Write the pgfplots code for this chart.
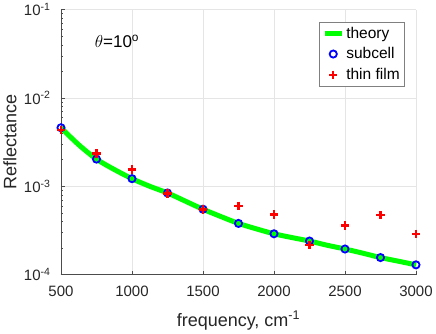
\documentclass[border=0pt]{standalone}
\usepackage{pgfplots}
\pgfplotsset{compat=1.18}
\usepackage{fontspec}
\setmainfont{Liberation Sans}
\definecolor{axgray}{gray}{0.3}
\definecolor{mgreen}{rgb}{0,1,0}
\begin{document}
\begin{tikzpicture}
\begin{axis}[
    name=ax,
    scale only axis,
    width=355pt, height=265pt,
    ymode=log,
    xmin=500, xmax=3000,
    ymin=1e-4, ymax=1e-1,
    xtick={500,1000,1500,2000,2500,3000},
    ytick={1e-4,1e-3,1e-2,1e-1},
    yticklabels={10\textsuperscript{-4},10\textsuperscript{-3},10\textsuperscript{-2},10\textsuperscript{-1}},
    /pgf/number format/assume math mode=true,
    /pgf/number format/set thousands separator={},
    axis lines*=left,
    axis line style={axgray, line width=0.7pt},
    tick style={axgray, line width=0.5pt},
    tick align=inside,
    major tick length=4pt,
    minor tick length=2.5pt,
    xtick pos=bottom, ytick pos=left,
    grid=major,
    grid style={gray!20, line width=0.5pt},
    tick label style={font=\fontsize{15}{17}\selectfont, text=black!85},
    yticklabel style={xshift=-7pt},
    xticklabel style={yshift=-8pt},
    xlabel={frequency, cm\textsuperscript{-1}},
    ylabel={Reflectance},
    label style={font=\fontsize{18}{21}\selectfont, text=black!85},
    xlabel style={at={(axis description cs:0.5,0)}, anchor=center, yshift=-46pt},
    ylabel style={at={(axis description cs:0,0.5)}, anchor=center, yshift=51pt},
    legend style={at={(1,1)}, xshift=-11pt, yshift=-12pt, anchor=north east,
        draw=gray, line width=0.6pt, font=\fontsize{15.5}{18}\selectfont,
        row sep=4pt, inner sep=3pt},
    legend cell align=left,
    clip=false,
]
\addplot[mgreen, line width=5pt, no markers, smooth] coordinates {
    (500,4.6e-3) (625,2.95e-3) (750,2.03e-3) (875,1.55e-3) (1000,1.22e-3)
    (1125,1.0e-3) (1250,8.4e-4) (1375,6.8e-4) (1500,5.5e-4) (1625,4.55e-4)
    (1750,3.8e-4) (1875,3.3e-4) (2000,2.9e-4) (2125,2.63e-4) (2250,2.4e-4)
    (2375,2.15e-4) (2500,1.95e-4) (2625,1.75e-4) (2750,1.56e-4)
    (2875,1.42e-4) (3000,1.29e-4)
};
\addlegendentry{theory}
\addplot[only marks, blue, mark=o, mark size=3.6pt, mark options={line width=1.8pt}] coordinates {
    (500,4.6e-3) (750,2.03e-3) (1000,1.22e-3) (1250,8.4e-4) (1500,5.5e-4)
    (1750,3.8e-4) (2000,2.9e-4) (2250,2.4e-4) (2500,1.95e-4) (2750,1.56e-4)
    (3000,1.29e-4)
};
\addlegendentry{subcell}
\addplot[only marks, red, mark=+, mark size=4.2pt, mark options={line width=2.3pt}] coordinates {
    (500,4.35e-3) (750,2.35e-3) (1000,1.55e-3) (1250,8.3e-4) (1500,5.45e-4)
    (1750,6.0e-4) (2000,4.8e-4) (2250,2.18e-4) (2500,3.6e-4) (2750,4.7e-4)
    (3000,2.9e-4)
};
\addlegendentry{thin film}
\node[font=\fontsize{17}{20}\selectfont, text=black] at (axis cs:894,0.044) {$\theta$=10\textsuperscript{o}};
\end{axis}
\path ([shift={(-61pt,-59pt)}]ax.south west) rectangle ([shift={(20pt,9pt)}]ax.north east);
\end{tikzpicture}
\end{document}
